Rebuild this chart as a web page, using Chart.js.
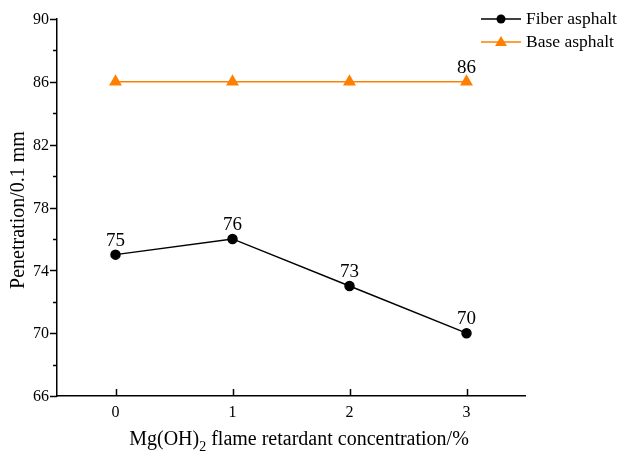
<!DOCTYPE html>
<html>
<head>
<meta charset="utf-8">
<script src="https://cdn.jsdelivr.net/npm/chart.js@4"></script>
<style>
    html, body { margin: 0; padding: 0; background: #ffffff; }
    #wrap { width: 619px; height: 452px; }
</style>
</head>
<body>
<div id="wrap"><canvas id="penChart" width="619" height="452"></canvas></div>
<script>
// Penetration vs Mg(OH)2 concentration

const concentrations = [0, 1, 2, 3];
const fiberValues = [75, 76, 73, 70];
const baseValues = [86, 86, 86, 86];
const yTicks = [66, 70, 74, 78, 82, 86, 90];

const FONT = "'Liberation Serif', 'Times New Roman', serif";
const ORANGE = '#ff8000';

function toPoints(values) {
    return concentrations.map((c, i) => ({ x: c, y: values[i] }));
}

/**
 * Draws ticks, data labels, legend and axis titles
 */
const decorPlugin = {
    id: 'decor',
    afterDraw(chart) {
        const ctx = chart.ctx;
        const xs = chart.scales.x;
        const ys = chart.scales.y;
        const area = chart.chartArea;
        ctx.save();
        ctx.strokeStyle = '#000';
        ctx.lineWidth = 1.5;

        // y ticks (major + minor, outward)
        for (let v = 66; v <= 90; v += 2) {
            const py = Math.round(ys.getPixelForValue(v)) + 0.5;
            const len = yTicks.includes(v) ? 7 : 4;
            ctx.beginPath();
            ctx.moveTo(area.left, py);
            ctx.lineTo(area.left - len, py);
            ctx.stroke();
        }
        // x ticks (inward)
        concentrations.forEach(c => {
            const px = Math.round(xs.getPixelForValue(c)) + 0.5;
            ctx.beginPath();
            ctx.moveTo(px, area.bottom);
            ctx.lineTo(px, area.bottom - 7);
            ctx.stroke();
        });

        // tick labels
        ctx.fillStyle = '#000';
        ctx.font = '16px ' + FONT;
        ctx.textAlign = 'right';
        ctx.textBaseline = 'middle';
        yTicks.forEach(v => {
            ctx.fillText(String(v), area.left - 8, ys.getPixelForValue(v) + 1);
        });
        ctx.textAlign = 'center';
        ctx.textBaseline = 'top';
        concentrations.forEach(c => {
            ctx.fillText(String(c), xs.getPixelForValue(c), area.bottom + 9);
        });

        // data labels
        ctx.font = '19px ' + FONT;
        ctx.textBaseline = 'alphabetic';
        fiberValues.forEach((v, i) => {
            ctx.fillText(String(v), xs.getPixelForValue(concentrations[i]), ys.getPixelForValue(v) - 9);
        });
        const last = baseValues.length - 1;
        ctx.fillText(String(baseValues[last]), xs.getPixelForValue(concentrations[last]), ys.getPixelForValue(baseValues[last]) - 9);

        // y axis title
        ctx.save();
        ctx.translate(19, 210);
        ctx.rotate(-Math.PI / 2);
        ctx.font = '20px ' + FONT;
        ctx.textBaseline = 'middle';
        ctx.textAlign = 'center';
        ctx.fillText('Penetration/0.1 mm', 0, 0);
        ctx.restore();

        // x axis title with subscript
        const partA = 'Mg(OH)';
        const partB = '2';
        const partC = ' flame retardant concentration/%';
        ctx.font = '20px ' + FONT;
        const wA = ctx.measureText(partA).width;
        const wC = ctx.measureText(partC).width;
        ctx.font = '14px ' + FONT;
        const wB = ctx.measureText(partB).width;
        let tx = 299 - (wA + wB + wC) / 2;
        const ty = 440;
        ctx.textAlign = 'left';
        ctx.textBaseline = 'middle';
        ctx.font = '20px ' + FONT;
        ctx.fillText(partA, tx, ty);
        tx += wA;
        ctx.font = '14px ' + FONT;
        ctx.fillText(partB, tx, ty + 7);
        tx += wB;
        ctx.font = '20px ' + FONT;
        ctx.fillText(partC, tx, ty);

        // legend
        const legend = [
            { label: 'Fiber asphalt', color: '#000', style: 'circle', y: 19 },
            { label: 'Base asphalt', color: ORANGE, style: 'triangle', y: 42 }
        ];
        legend.forEach(item => {
            ctx.strokeStyle = item.color;
            ctx.fillStyle = item.color;
            ctx.lineWidth = 1.5;
            ctx.beginPath();
            ctx.moveTo(481, item.y);
            ctx.lineTo(521, item.y);
            ctx.stroke();
            ctx.beginPath();
            if (item.style === 'circle') {
                ctx.arc(501, item.y, 4.5, 0, Math.PI * 2);
            } else {
                ctx.moveTo(501, item.y - 6);
                ctx.lineTo(507, item.y + 4);
                ctx.lineTo(495, item.y + 4);
                ctx.closePath();
            }
            ctx.fill();
            ctx.fillStyle = '#000';
            ctx.font = '17.5px ' + FONT;
            ctx.textAlign = 'left';
            ctx.textBaseline = 'middle';
            ctx.fillText(item.label, 526, item.y);
        });

        ctx.restore();
    }
};

const ctx = document.getElementById('penChart');

new Chart(ctx, {
    type: 'line',
    data: {
        datasets: [
            {
                label: 'Fiber asphalt',
                data: toPoints(fiberValues),
                borderColor: '#000000',
                backgroundColor: '#000000',
                borderWidth: 1.5,
                pointStyle: 'circle',
                pointRadius: 4.5,
                pointHoverRadius: 4.5
            },
            {
                label: 'Base asphalt',
                data: toPoints(baseValues),
                borderColor: ORANGE,
                backgroundColor: ORANGE,
                borderWidth: 1.5,
                pointStyle: 'triangle',
                pointRadius: 6,
                pointHoverRadius: 6
            }
        ]
    },
    options: {
        responsive: false,
        animation: false,
        layout: {
            padding: { top: 19, right: 94, bottom: 0, left: 0 }
        },
        plugins: {
            legend: { display: false },
            tooltip: { enabled: false }
        },
        scales: {
            x: {
                type: 'linear',
                min: -0.5,
                max: 3.5,
                grid: { display: false, drawTicks: false },
                border: { display: true, color: '#000', width: 1.5 },
                ticks: { display: false },
                afterFit(scale) { scale.height = 56; }
            },
            y: {
                min: 66,
                max: 90,
                grid: { display: false, drawTicks: false },
                border: { display: true, color: '#000', width: 1.5 },
                ticks: { display: false, stepSize: 4 },
                afterFit(scale) { scale.width = 57; }
            }
        }
    },
    plugins: [decorPlugin]
});
</script>
</body>
</html>
